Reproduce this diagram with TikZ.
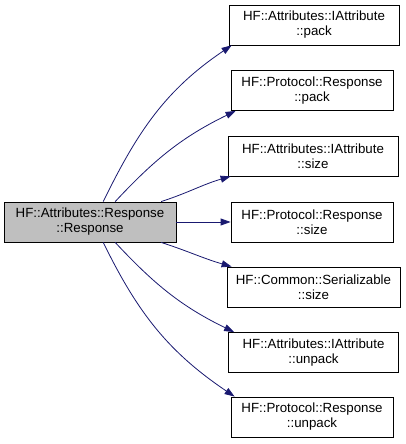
\documentclass[tikz,border=0pt]{standalone}
\usepackage{fontspec}
\setmainfont{Liberation Sans}
\usetikzlibrary{arrows.meta}
\definecolor{EdgeClr}{rgb}{0.098,0.098,0.439}
\definecolor{RootClr}{gray}{0.75}

\begin{document}
\begin{tikzpicture}[x=1pt,y=1pt,
  fnbox/.style={draw=black,line width=0.8pt,fill=white,minimum height=40pt,
    inner sep=0pt,align=center,font=\fontsize{13.3}{15}\selectfont},
  call/.style={EdgeClr,line width=0.8pt,-{Triangle[length=10pt,width=7pt]}}]
\useasboundingbox (0,0) rectangle (405,444);

\node[fnbox,fill=RootClr,minimum width=172pt] (resp) at (90,222) {HF::Attributes::Response\\::Response};

\node[fnbox,minimum width=170pt] (iapack) at (314,419) {HF::Attributes::IAttribute\\::pack};
\node[fnbox,minimum width=162pt] (prpack) at (312,353.5) {HF::Protocol::Response\\::pack};
\node[fnbox,minimum width=170pt] (iasize) at (313,288) {HF::Attributes::IAttribute\\::size};
\node[fnbox,minimum width=162pt] (prsize) at (312,222) {HF::Protocol::Response\\::size};
\node[fnbox,minimum width=173pt] (sersize) at (313.5,157) {HF::Common::Serializable\\::size};
\node[fnbox,minimum width=170pt] (iaunpack) at (313.5,91.5) {HF::Attributes::IAttribute\\::unpack};
\node[fnbox,minimum width=162pt] (prunpack) at (312,27) {HF::Protocol::Response\\::unpack};

% calls going up
\draw[call] (resp.57) to[out=64,in=214] ([xshift=3pt]iapack.south west);
\draw[call] (resp.39) to[out=47,in=206] ([xshift=5pt]prpack.south west);
\draw[call] (resp.16) to[out=18,in=196] ([xshift=3pt]iasize.south west);
\draw[call] (resp.east) -- (prsize.west);
% calls going down
\draw[call] (resp.-16) to[out=-18,in=164] ([xshift=5pt]sersize.north west);
\draw[call] (resp.-39) to[out=-47,in=154] ([xshift=6pt]iaunpack.north west);
\draw[call] (resp.-57) to[out=-64,in=146] ([xshift=4pt]prunpack.north west);

\end{tikzpicture}
\end{document}
